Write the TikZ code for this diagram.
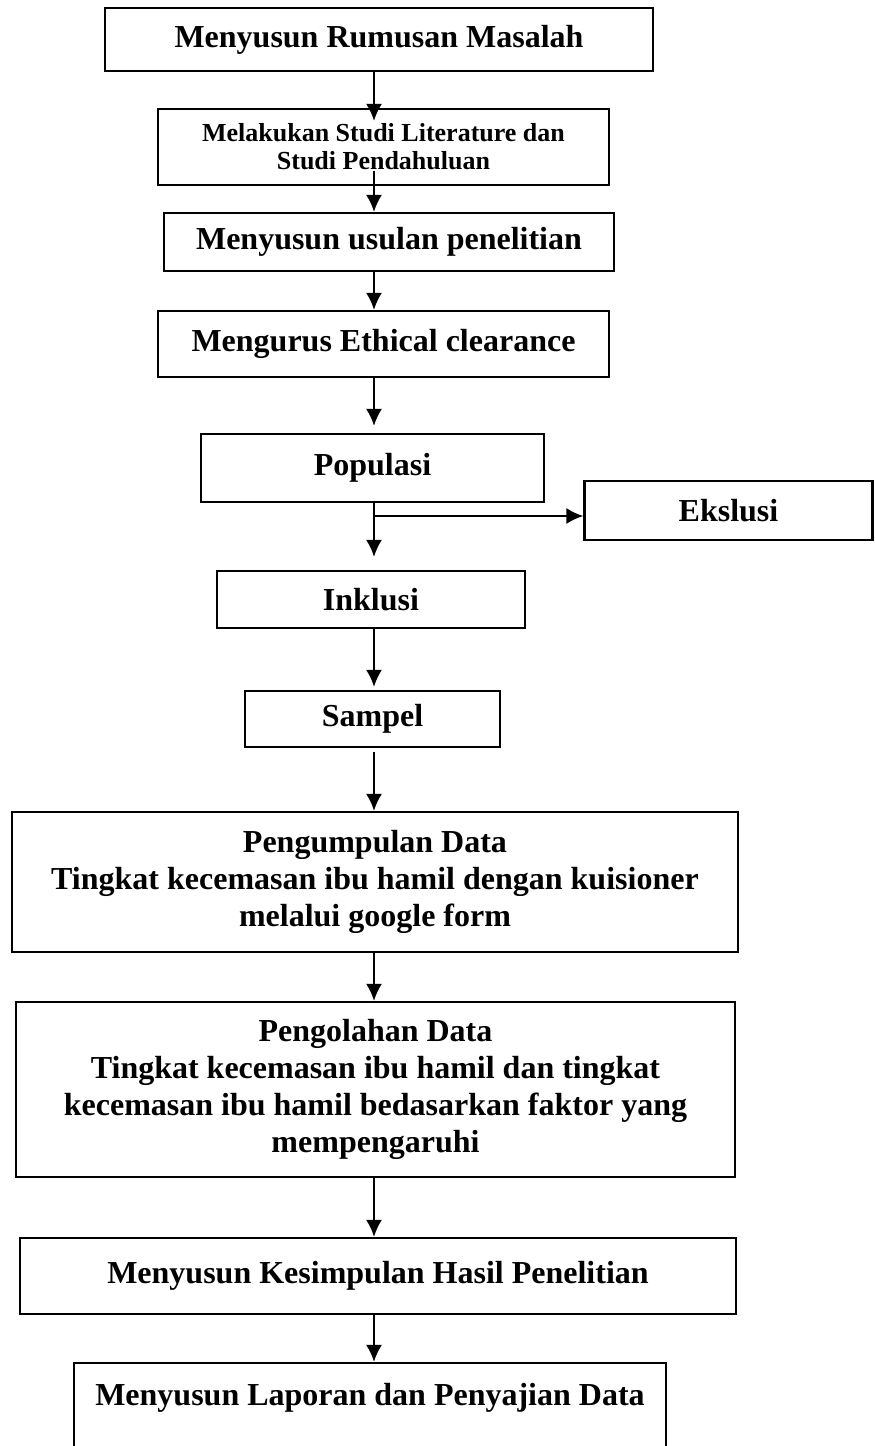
\documentclass[tikz,border=0pt]{standalone}
\usepackage{fontspec}
\setmainfont{Liberation Serif}
\usepackage{tikz}
\usetikzlibrary{arrows.meta,calc}
\tikzset{box/.style={draw, rectangle, line width=1.1pt, inner sep=2pt, align=center, text centered, font=\bfseries\fontsize{16pt}{18.5pt}\selectfont}}
\tikzset{smallbox/.style={box, font=\bfseries\fontsize{13pt}{14pt}\selectfont}}
\tikzset{line/.style={draw, line width=1.1pt, -{Latex[length=8.5pt,width=8pt]}}}

\begin{document}
\begin{tikzpicture}[x=0.5pt, y=-0.5pt]
		\useasboundingbox (0,0) rectangle (874,1446);
		\clip (0,0) rectangle (874,1446);
		
		\node [box, minimum width=274pt, minimum height=31.5pt] (rumusan) at (379,39.5) {Menyusun Rumusan Masalah};
		\node [smallbox, below of=rumusan, node distance=53.75pt, xshift=2.25pt, minimum width=225.5pt, minimum height=38pt] (studi) {Melakukan Studi Literature dan\\Studi Pendahuluan};
		\node [box, below of=studi, node distance=47.5pt, xshift=2.75pt, minimum width=225pt, minimum height=29pt] (usulan) {Menyusun usulan penelitian};
		\node [box, below of=usulan, node distance=51pt, xshift=-2.75pt, minimum width=225.5pt, minimum height=33pt] (ethical) {Mengurus Ethical clearance};
		\node [box, below of=ethical, node distance=62pt, xshift=-5.5pt, minimum width=171.5pt, minimum height=34pt] (populasi) {Populasi};
		\node [box, right of=populasi, node distance=178pt, yshift=-21.25pt, minimum width=144pt, minimum height=29.5pt] (ekslusi) {Ekslusi};
		\node [box, below of=populasi, node distance=65.75pt, xshift=-0.75pt, minimum width=154pt, minimum height=28.5pt] (inklusi) {Inklusi};
		\node [box, below of=inklusi, node distance=59.75pt, xshift=0.75pt, minimum width=127.5pt, minimum height=28pt] (sampel) {Sampel};
		\node [box, below of=sampel, node distance=81.5pt, xshift=1.25pt, minimum width=363pt, minimum height=70pt] (kumpul) {Pengumpulan Data\\Tingkat kecemasan ibu hamil dengan kuisioner\\melalui google form};
		\node [box, below of=kumpul, node distance=103.75pt, xshift=0.25pt, minimum width=359.5pt, minimum height=87.5pt] (olah) {Pengolahan Data\\Tingkat kecemasan ibu hamil dan tingkat\\kecemasan ibu hamil bedasarkan faktor yang\\mempengaruhi};
		\node [box, below of=olah, node distance=93.25pt, xshift=1.25pt, minimum width=358pt, minimum height=38pt] (simpul) {Menyusun Kesimpulan Hasil Penelitian};
		\node [box, below of=simpul, node distance=70pt, xshift=-4pt, minimum width=296pt, minimum height=0pt, inner ysep=0pt, text height=21pt, text depth=32pt] (laporan) {Menyusun Laporan dan Penyajian Data};
		
		\coordinate (jalur) at (374,0);
		\coordinate (cabang) at (374,516);
		
		%arrows
		\path [line, shorten >=-6.5pt] (jalur |- rumusan.south) -- (jalur |- studi.north);
		\path [line, shorten <=-7.5pt] (jalur |- studi.south) -- (jalur |- usulan.north);
		\path [line] (jalur |- usulan.south) -- (jalur |- ethical.north);
		\path [line, shorten >=3.5pt] (jalur |- ethical.south) -- (jalur |- populasi.north);
		\path [line, shorten >=6.5pt] (jalur |- populasi.south) -- (jalur |- inklusi.north);
		\path [line] (cabang) -- (cabang -| ekslusi.west);
		\path [line, shorten >=1.5pt] (jalur |- inklusi.south) -- (jalur |- sampel.north);
		\path [line, shorten <=2pt] (jalur |- sampel.south) -- (jalur |- kumpul.north);
		\path [line] (jalur |- kumpul.south) -- (jalur |- olah.north);
		\path [line] (jalur |- olah.south) -- (jalur |- simpul.north);
		\path [line] (jalur |- simpul.south) -- (jalur |- laporan.north);
		
\end{tikzpicture}
\end{document}
